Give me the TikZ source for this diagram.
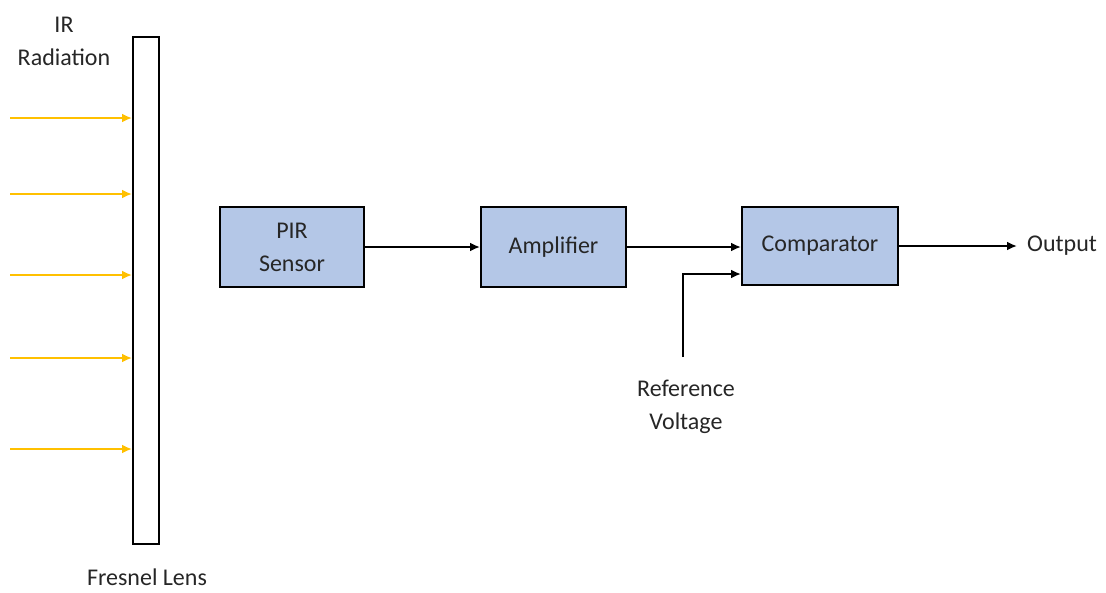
\documentclass[tikz,border=0pt]{standalone}
\usepackage{fontspec}
\setmainfont{Carlito}
\usetikzlibrary{arrows.meta}
\definecolor{boxfill}{HTML}{B4C7E7}
\definecolor{irc}{HTML}{FFC000}
\definecolor{txt}{HTML}{262626}
\tikzset{
  blk/.style={draw=black, line width=2pt, fill=boxfill, minimum width=#1, minimum height=80pt, inner sep=0pt, align=center, text=txt, font=\fontsize{24}{33}\selectfont},
  lbl/.style={align=center, text=txt, font=\fontsize{24}{33}\selectfont, inner sep=0pt},
  sig/.style={draw=black, line width=2pt, -{Latex[length=10pt,width=9pt]}},
  ray/.style={draw=irc, line width=2pt, -{Latex[length=10pt,width=9pt]}}
}
\begin{document}
\begin{tikzpicture}[x=1pt,y=-1pt]
\useasboundingbox (0,0) rectangle (1106,592);
% lens
\node[draw=black, line width=2pt, minimum width=26pt, minimum height=507pt, inner sep=0pt] (lens) at (146,290.5) {};
\node[lbl] (ir) at (64,41) {IR\\Radiation};
\node[lbl] (fl) at (147,577) {Fresnel Lens};
% rays
\foreach \i/\y in {1/118,2/194,3/275,4/358,5/449}{
  \coordinate (s\i) at (10,\y);
  \draw[ray] (s\i) -- (s\i -| lens.west);
}
% blocks
\node[blk=144pt] (pir) at (292,247) {PIR\\Sensor};
\node[blk=145pt] (amp) at (553.5,247) {Amplifier};
\node[blk=156pt, minimum height=78pt] (cmp) at (820,246) {\raisebox{-2pt}{Comparator}};
\node[lbl, anchor=west] (out) at (1027,246) {Output};
\node[lbl] (ref) at (686,407) {Reference\\Voltage};
\coordinate (rv) at (683,357);
\coordinate (rc) at (683,274);
\draw[sig] (pir.east) -- (amp.west);
\draw[sig] (amp.east |- 0,247) -- (cmp.west |- 0,247);
\draw[sig] (rv) -- (rc) -- (cmp.west |- rc);
\draw[sig] (cmp.east) -- ([xshift=-10pt]out.west);
\end{tikzpicture}
\end{document}
